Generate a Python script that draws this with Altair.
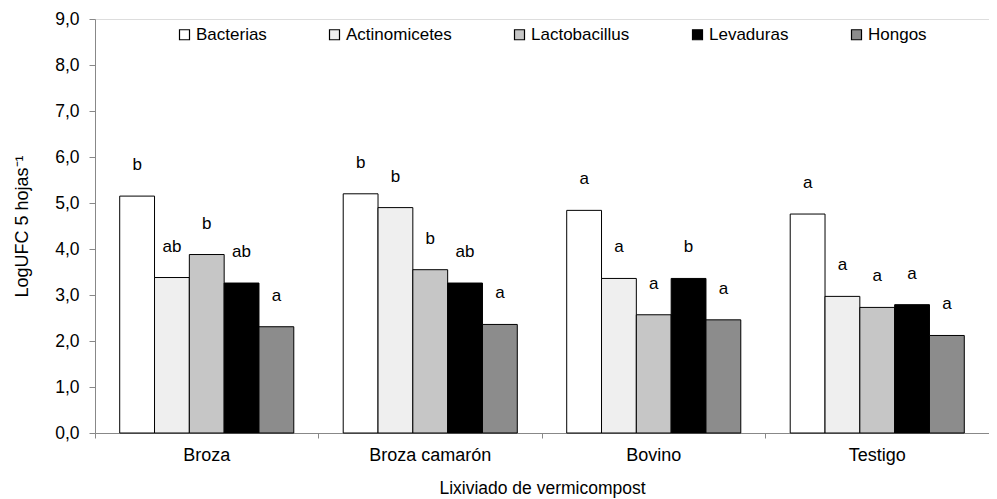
import altair as alt
import pandas as pd

categories = ["Broza", "Broza camarón", "Bovino", "Testigo"]
groups = ["Bacterias", "Actinomicetes", "Lactobacillus", "Levaduras", "Hongos"]

bacterias = [5.15, 5.20, 4.84, 4.76]
actinomicetes = [3.38, 4.90, 3.36, 2.97]
lactobacillus = [3.88, 3.55, 2.57, 2.73]
levaduras = [3.26, 3.26, 3.36, 2.79]
hongos = [2.31, 2.36, 2.46, 2.12]

letters_bacterias = ["b", "b", "a", "a"]
letters_actinomicetes = ["ab", "b", "a", "a"]
letters_lactobacillus = ["b", "b", "a", "a"]
letters_levaduras = ["ab", "ab", "b", "a"]
letters_hongos = ["a", "a", "a", "a"]

fills = ["#ffffff", "#efefef", "#c6c6c6", "#000000", "#8c8c8c"]

series = [bacterias, actinomicetes, lactobacillus, levaduras, hongos]
letters = [letters_bacterias, letters_actinomicetes, letters_lactobacillus,
           letters_levaduras, letters_hongos]

rows = []
for g, vals, lets in zip(groups, series, letters):
    for c, v, l in zip(categories, vals, lets):
        rows.append({"cat": c, "grp": g, "val": v, "let": l})
df = pd.DataFrame(rows)

FONT = "Liberation Sans"

x = alt.X("cat:N", sort=categories, title="Lixiviado de vermicompost",
          scale=alt.Scale(paddingInner=0, paddingOuter=0),
          axis=alt.Axis(labelAngle=0, bandPosition=0, tickSize=5,
                        labelPadding=8, titlePadding=15,
                        domainColor="#888888", tickColor="#888888",
                        labelFontSize=18, titleFontSize=17.5,
                        labelColor="#000000", titleColor="#000000",
                        labelFont=FONT, titleFont=FONT, titleFontWeight="normal"))
xo = alt.XOffset("grp:N", sort=groups,
                 scale=alt.Scale(paddingInner=0, paddingOuter=0.71))
y = alt.Y("val:Q", title="LogUFC 5 hojas⁻¹",
          scale=alt.Scale(domain=[0, 9], nice=False),
          axis=alt.Axis(values=list(range(0, 10)), grid=False, tickSize=6,
                        labelPadding=10, titlePadding=23,
                        labelExpr="replace(format(datum.value, '.1f'), '.', ',')",
                        domainColor="#888888", tickColor="#888888",
                        labelFontSize=17.5, titleFontSize=18,
                        labelColor="#000000", titleColor="#000000",
                        labelFont=FONT, titleFont=FONT, titleFontWeight="normal"))

color = alt.Color("grp:N", sort=groups,
                  scale=alt.Scale(domain=groups, range=fills),
                  legend=alt.Legend(title=None, orient="none", direction="horizontal",
                                    columns=5, legendX=81, legendY=7,
                                    symbolType="square", symbolSize=100,
                                    symbolStrokeColor="#000000", symbolStrokeWidth=1.2,
                                    labelFontSize=17, labelFont=FONT,
                                    labelColor="#000000", labelOffset=3,
                                    columnPadding=59))

bars = alt.Chart(df).mark_bar(stroke="#000000", strokeWidth=1).encode(
    x=x, xOffset=xo, y=y, color=color
)

text = alt.Chart(df).mark_text(dy=-31, baseline="middle", fontSize=17,
                               font=FONT, color="#000000").encode(
    x=alt.X("cat:N", sort=categories), xOffset=xo, y="val:Q", text="let:N"
)

chart = (bars + text).properties(
    width=894, height=414,
    autosize=alt.AutoSizeParams(type="none"),
    padding={"left": 87, "top": 11, "right": 0, "bottom": 65},
).configure_view(stroke=None).configure(background="#ffffff")

chart.save("out.html", embed_options={"renderer": "svg", "actions": False})
